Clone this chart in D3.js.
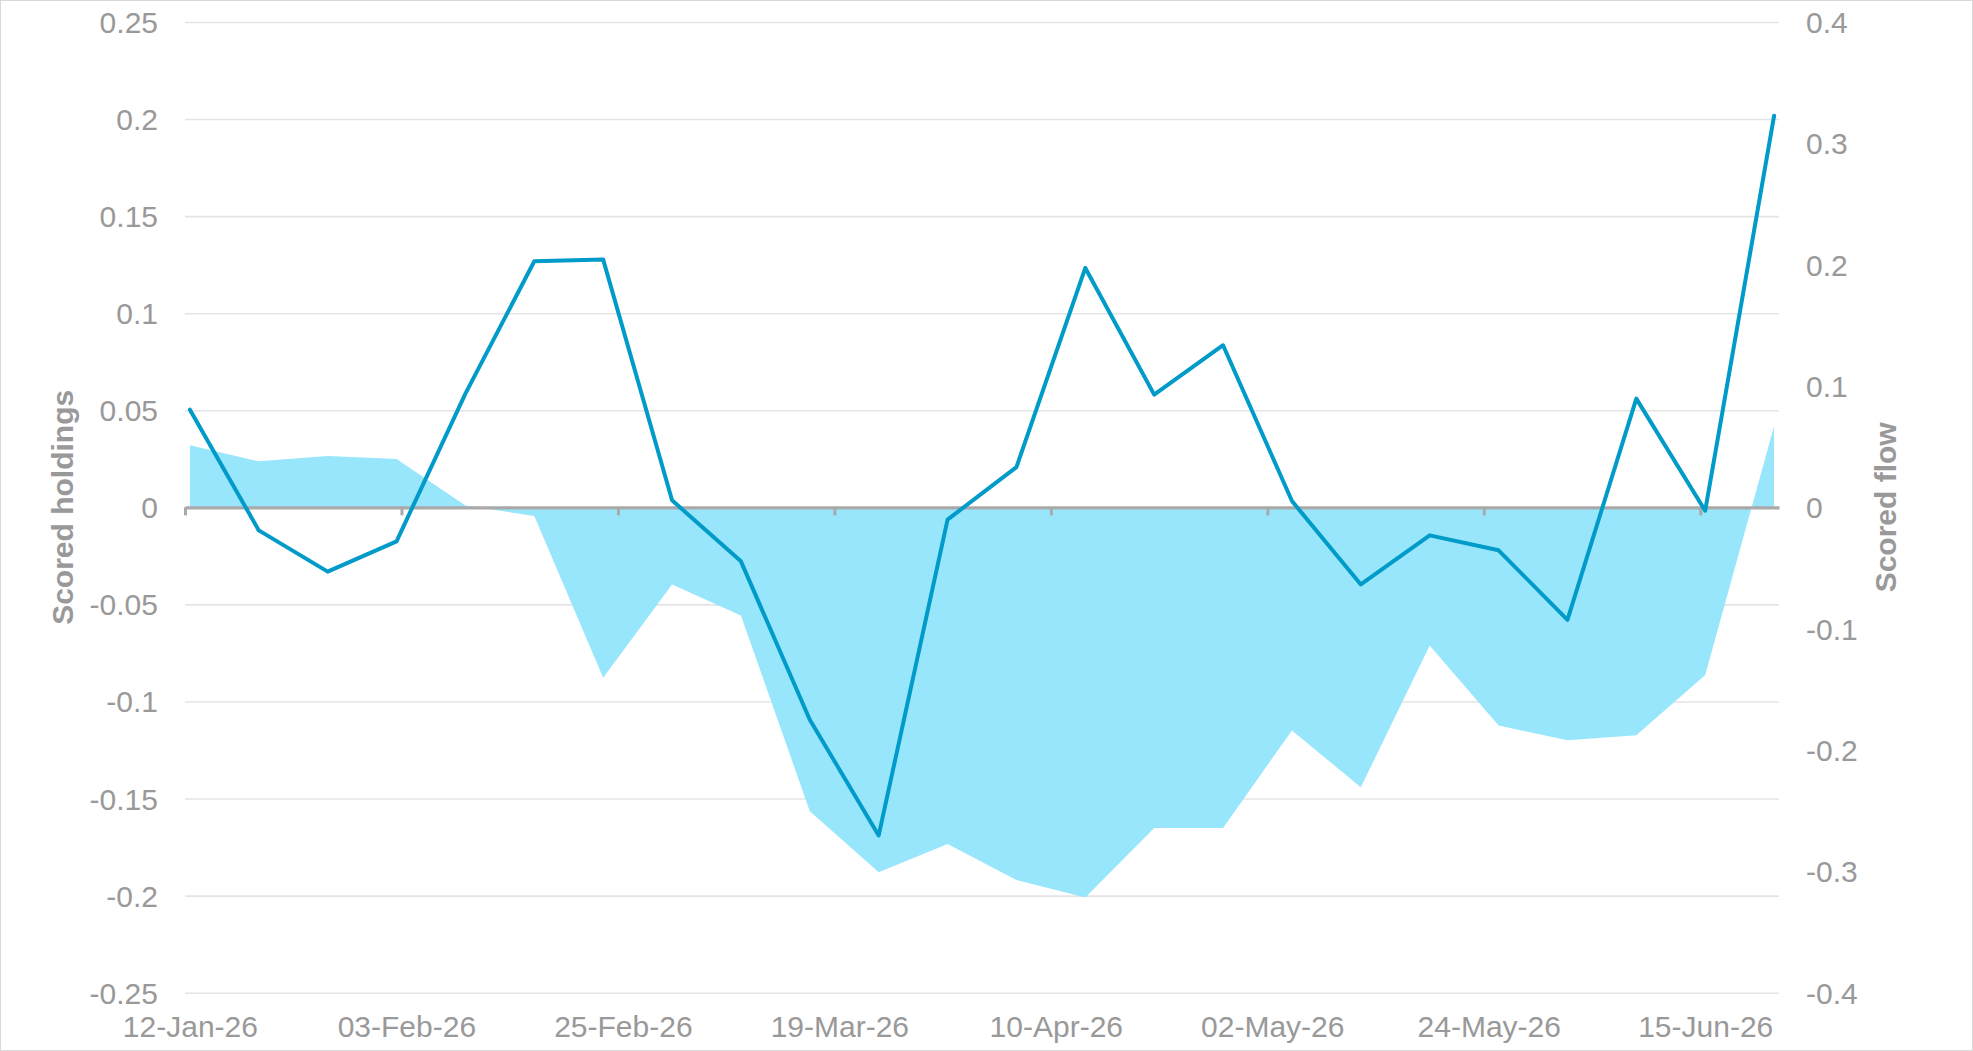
<!DOCTYPE html>
<html>
<head>
<meta charset="utf-8">
<script src="https://cdn.jsdelivr.net/npm/d3@7"></script>
<style>
  body { margin: 0; background: #fff; }
  svg { display: block; font-family: "Liberation Sans", Arial, sans-serif; }
</style>
</head>
<body>
<div id="chart"></div>
<script>
// weekly observations
const weekDates = [
  '2026-01-12', '2026-01-19', '2026-01-26', '2026-02-02', '2026-02-09', '2026-02-16',
  '2026-02-23', '2026-03-02', '2026-03-09', '2026-03-16', '2026-03-23', '2026-03-30',
  '2026-04-06', '2026-04-13', '2026-04-20', '2026-04-27', '2026-05-04', '2026-05-11',
  '2026-05-18', '2026-05-25', '2026-06-01', '2026-06-08', '2026-06-15', '2026-06-22'
];
// area, left axis
const scoredHoldings = [
  0.032, 0.0237, 0.0265, 0.0249, 0.001, -0.0045,
  -0.0878, -0.0397, -0.0557, -0.1565, -0.188, -0.1734,
  -0.1919, -0.2009, -0.1651, -0.1651, -0.1149, -0.1442,
  -0.0711, -0.1124, -0.120, -0.1174, -0.0863, 0.0418
];
// line, right axis
const scoredFlow = [
  0.0805, -0.019, -0.053, -0.028, 0.0937, 0.2028,
  0.2042, 0.0058, -0.0445, -0.175, -0.2704, -0.0101,
  0.0332, 0.1973, 0.0929, 0.1336, 0.0052, -0.0635,
  -0.0231, -0.0354, -0.0927, 0.0896, -0.0028, 0.3227
];
const xTickDates = ['2026-01-12', '2026-02-03', '2026-02-25', '2026-03-19', '2026-04-10', '2026-05-02', '2026-05-24', '2026-06-15'];
const xDomain = ['2026-01-12', '2026-06-23'];
const leftTicks = [0.25, 0.2, 0.15, 0.1, 0.05, 0, -0.05, -0.1, -0.15, -0.2, -0.25];
const rightTicks = [0.4, 0.3, 0.2, 0.1, 0, -0.1, -0.2, -0.3, -0.4];
const leftTitle = 'Scored holdings';
const rightTitle = 'Scored flow';

const width = 1973;
const height = 1051;
const margin = { top: 22, right: 194, bottom: 58.3, left: 185 };
const textColor = '#999999';
const fontSize = 30;
const halfDay = 12 * 3600 * 1000;

const parse = d3.utcParse('%Y-%m-%d');
const fmt = d3.utcFormat('%d-%b-%y');
const dates = weekDates.map(parse);

const svg = d3.select('#chart')
  .append('svg')
  .attr('width', width)
  .attr('height', height);

svg.append('rect')
  .attr('x', 0.5).attr('y', 0.5)
  .attr('width', width - 1).attr('height', height - 1)
  .attr('fill', '#fff')
  .attr('stroke', '#d9d9d9');

const xScale = d3.scaleUtc()
  .domain(xDomain.map(parse))
  .range([margin.left, width - margin.right]);
const yLeft = d3.scaleLinear()
  .domain([-0.25, 0.25])
  .range([height - margin.bottom, margin.top]);
const yRight = d3.scaleLinear()
  .domain([-0.4, 0.4])
  .range([height - margin.bottom, margin.top]);

const xPoint = d => xScale(new Date(+d + halfDay));
const numFmt = d => String(+d.toFixed(2));

// gridlines
const grid = svg.append('g')
  .attr('class', 'grid')
  .attr('transform', `translate(${margin.left}, 0)`)
  .call(d3.axisLeft(yLeft)
    .tickValues(leftTicks.filter(d => d !== 0))
    .tickSizeInner(-(width - margin.left - margin.right))
    .tickSizeOuter(0)
    .tickFormat(''));
grid.select('.domain').remove();
grid.selectAll('line').attr('stroke', '#e4e4e4').attr('stroke-width', 1.6);

// area series
const area = d3.area()
  .x((d, i) => xPoint(dates[i]))
  .y0(yLeft(0))
  .y1(d => yLeft(d));
svg.append('path')
  .datum(scoredHoldings)
  .attr('fill', '#98e6fc')
  .attr('d', area);

// zero axis with tick marks
const zeroAxis = svg.append('g')
  .attr('class', 'x-axis-line')
  .attr('transform', `translate(0, ${yLeft(0)})`)
  .call(d3.axisBottom(xScale)
    .tickValues(xTickDates.map(parse))
    .tickSizeInner(8)
    .tickSizeOuter(0)
    .tickFormat(''));
zeroAxis.select('.domain').attr('stroke', '#a9a9a9').attr('stroke-width', 3.2);
zeroAxis.selectAll('line').attr('stroke', '#a9a9a9').attr('stroke-width', 3);

// line series
const line = d3.line()
  .x((d, i) => xPoint(dates[i]))
  .y(d => yRight(d));
svg.append('path')
  .datum(scoredFlow)
  .attr('fill', 'none')
  .attr('stroke', '#009bc8')
  .attr('stroke-width', 4)
  .attr('stroke-linejoin', 'round')
  .attr('stroke-linecap', 'round')
  .attr('d', line);

// x labels
const xLabels = svg.append('g')
  .attr('class', 'x-labels')
  .attr('transform', `translate(0, 1037)`)
  .call(d3.axisBottom(xScale)
    .tickValues(xTickDates.map(d => new Date(+parse(d) + halfDay)))
    .tickSize(0)
    .tickFormat(fmt));
xLabels.select('.domain').remove();
xLabels.selectAll('text')
  .attr('y', 0).attr('dy', 0)
  .attr('font-size', fontSize)
  .attr('font-family', '"Liberation Sans", Arial, sans-serif')
  .attr('fill', textColor);

// left axis labels
const leftAxis = svg.append('g')
  .attr('class', 'y-axis-left')
  .attr('transform', 'translate(158, 0)')
  .call(d3.axisLeft(yLeft).tickValues(leftTicks).tickSize(0).tickPadding(0).tickFormat(numFmt));
leftAxis.select('.domain').remove();
leftAxis.selectAll('text')
  .attr('dy', '0.35em')
  .attr('font-size', fontSize)
  .attr('font-family', '"Liberation Sans", Arial, sans-serif')
  .attr('fill', textColor);

// right axis labels
const rightAxis = svg.append('g')
  .attr('class', 'y-axis-right')
  .attr('transform', 'translate(1806, 0)')
  .call(d3.axisRight(yRight).tickValues(rightTicks).tickSize(0).tickPadding(0).tickFormat(numFmt));
rightAxis.select('.domain').remove();
rightAxis.selectAll('text')
  .attr('dy', '0.35em')
  .attr('font-size', fontSize)
  .attr('font-family', '"Liberation Sans", Arial, sans-serif')
  .attr('fill', textColor);

// axis titles
svg.append('text')
  .attr('transform', `translate(73, ${yLeft(0)}) rotate(-90)`)
  .attr('text-anchor', 'middle')
  .attr('font-size', fontSize)
  .attr('font-weight', 700)
  .attr('fill', textColor)
  .text(leftTitle);
svg.append('text')
  .attr('transform', `translate(1896, ${yLeft(0)}) rotate(-90)`)
  .attr('text-anchor', 'middle')
  .attr('font-size', fontSize)
  .attr('font-weight', 700)
  .attr('fill', textColor)
  .text(rightTitle);
</script>
</body>
</html>
